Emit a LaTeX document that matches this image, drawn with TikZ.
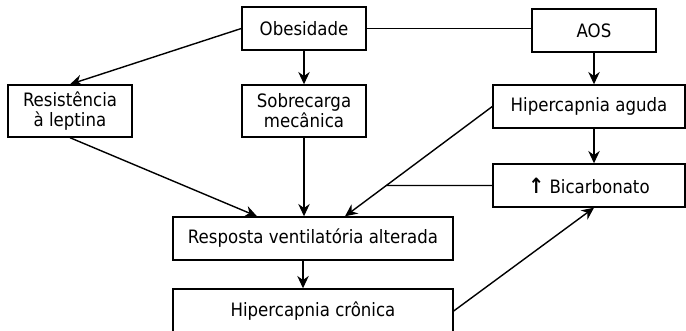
\documentclass[tikz,border=0pt]{standalone}
\usepackage{fontspec}
\setmainfont{DejaVu Sans Condensed}
\usetikzlibrary{arrows.meta}

\tikzset{
  caixa/.style={draw, line width=0.8pt, align=center, inner sep=0pt,
    font=\fontsize{10.5}{11.4}\selectfont},
  seta/.style={line width=0.8pt, -{Stealth[length=7pt,width=6.5pt]}},
  liga/.style={line width=0.8pt}
}

\begin{document}
\begin{tikzpicture}[x=0.02cm, y=-0.02cm]
        \clip (0,0) rectangle (686,331);
        \node[caixa, minimum width=2.48cm, minimum height=0.86cm] (obes) at (304,28.5) {Obesidade};
        \node[caixa, minimum width=2.48cm, minimum height=0.86cm] (aos) at (594,30.5) {AOS};
        \node[caixa, minimum width=2.48cm, minimum height=1.04cm] (resist) at (70,111) {Resistência\\à leptina};
        \node[caixa, minimum width=2.48cm, minimum height=1.04cm] (sobre) at (304,111) {Sobrecarga\\mecânica};
        \node[caixa, minimum width=3.84cm, minimum height=0.86cm] (aguda) at (589,106.5) {Hipercapnia aguda};
        \node[caixa, minimum width=3.84cm, minimum height=0.86cm] (bicarb) at (589,185.5) {{\bfseries\fontsize{12}{12}\selectfont↑} Bicarbonato};
        \node[caixa, minimum width=5.6cm, minimum height=0.86cm] (resp) at (313,238.5) {Resposta ventilatória alterada};
        \node[caixa, minimum width=5.6cm, minimum height=0.88cm] (cron) at (313,311) {Hipercapnia crônica};
        \coordinate (alvo) at ([xshift=0.64cm]resp.north);
        \coordinate (junc) at (intersection of aguda.west--alvo and bicarb.west--bicarb.east);
        \draw[liga] (obes.east) -- (obes.east -| aos.west);
        \draw[seta] (obes.west) -- (resist.north);
        \draw[seta] (obes.south) -- (sobre.north);
        \draw[seta] (aos.south) -- (aos.south |- aguda.north);
        \draw[seta] (aguda.south -| aos.south) -- (bicarb.north -| aos.south);
        \draw[seta] (resist.south) -- ([xshift=-1.12cm]resp.north);
        \draw[seta] (sobre.south) -- (sobre.south |- resp.north);
        \draw[seta] (aguda.west) -- (alvo);
        \draw[liga] (bicarb.west) -- (junc);
        \draw[seta] ([xshift=-0.2cm]resp.south) -- ([xshift=-0.2cm]cron.north);
        \draw[seta] (cron.east) -- (bicarb.south -| aos.south);
\end{tikzpicture}
\end{document}
